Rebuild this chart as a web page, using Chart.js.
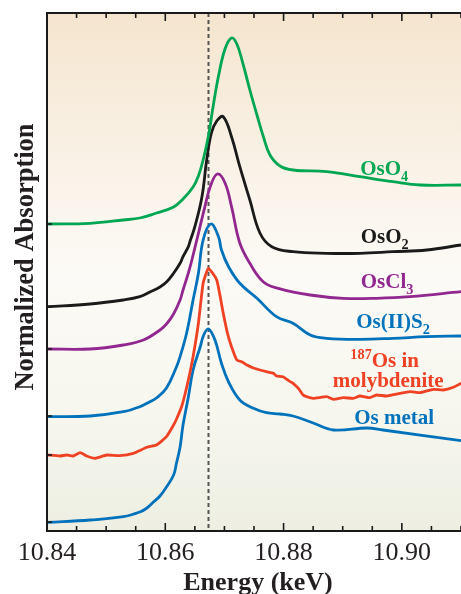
<!DOCTYPE html>
<html><head><meta charset="utf-8">
<script src="https://cdn.jsdelivr.net/npm/chart.js@4/dist/chart.umd.min.js"></script>
<style>html,body{margin:0;padding:0;background:#fff;overflow:hidden}#wrap{width:461px;height:594px}</style>
</head><body><div id="wrap"><canvas id="c" width="461" height="594"></canvas></div>
<script>
// ---- data (energy in keV, stacked normalized absorption) ----
const xTickLabels = ['10.84', '10.86', '10.88', '10.90'];
const edgeEnergy = 10.8673;
const baselineTicks = [3.07, 2.24, 1.82, 1.15, 0.76, 0.09];

const eOsO4 = [10.840,10.8473,10.8529,10.8557,10.8585,10.8614,10.8630,10.8647,10.8656,10.8664,10.8673,10.8681,10.8690,10.8701,10.8712,10.8721,10.8731,10.8743,10.8755,10.8766,10.8777,10.8794,10.8816,10.8873,10.8929,10.8985,10.9031,10.9100];
const aOsO4 = [3.07,3.077,3.11,3.13,3.18,3.24,3.32,3.44,3.55,3.71,3.95,4.25,4.55,4.82,4.93,4.87,4.68,4.41,4.16,3.94,3.76,3.65,3.61,3.593,3.543,3.493,3.46,3.46];

const eOsO2 = [10.840,10.8473,10.8529,10.8557,10.8574,10.8591,10.8602,10.8614,10.8625,10.8630,10.8639,10.8642,10.8650,10.8662,10.8670,10.8678,10.8687,10.8698,10.8712,10.8726,10.8743,10.8760,10.8780,10.8816,10.8873,10.8929,10.8985,10.9042,10.9100];
const aOsO2 = [2.243,2.27,2.31,2.343,2.39,2.44,2.49,2.577,2.677,2.743,2.843,2.90,3.043,3.343,3.71,3.98,4.10,4.143,3.943,3.643,3.31,2.98,2.843,2.793,2.777,2.777,2.793,2.81,2.86];

const eOsCl3 = [10.840,10.8473,10.8529,10.8563,10.8591,10.8602,10.8614,10.8625,10.8630,10.8639,10.8645,10.8656,10.8667,10.8676,10.8688,10.8701,10.8712,10.8726,10.8743,10.8766,10.8791,10.8845,10.8901,10.8957,10.9014,10.9100];
const aOsCl3 = [1.82,1.82,1.86,1.91,2.01,2.07,2.17,2.31,2.41,2.58,2.71,2.977,3.243,3.443,3.57,3.48,3.243,2.88,2.677,2.49,2.427,2.36,2.327,2.327,2.343,2.393];

const eOsS2 = [10.840,10.8473,10.8529,10.8557,10.8574,10.8585,10.8602,10.8619,10.8625,10.8636,10.8647,10.8656,10.8664,10.8677,10.8690,10.8695,10.8707,10.8726,10.8755,10.8788,10.8816,10.8845,10.8873,10.8929,10.8985,10.9042,10.9100];
const aOsS2 = [1.143,1.15,1.193,1.243,1.293,1.33,1.43,1.643,1.743,1.977,2.31,2.577,2.91,3.07,2.943,2.81,2.643,2.477,2.327,2.143,2.077,1.96,1.927,1.917,1.927,1.943,1.95];

const eMoly = [10.840,10.8422,10.8433,10.8444,10.8456,10.8467,10.8481,10.8501,10.8523,10.8546,10.8569,10.8585,10.8602,10.8614,10.8619,10.8628,10.8639,10.8647,10.8656,10.8664,10.8673,10.8687,10.8698,10.8705,10.8712,10.8721,10.8730,10.8738,10.8749,10.8760,10.8771,10.8783,10.8788,10.8799,10.8811,10.8816,10.8825,10.8833,10.8839,10.8850,10.8873,10.8884,10.8901,10.8918,10.8929,10.8946,10.8957,10.8974,10.8997,10.9014,10.9031,10.9053,10.9070,10.9087,10.9100];
const aMoly = [0.76,0.75,0.76,0.75,0.783,0.75,0.727,0.76,0.753,0.777,0.837,0.86,0.943,1.06,1.12,1.25,1.51,1.743,2.077,2.477,2.627,2.51,2.177,1.98,1.843,1.71,1.69,1.66,1.63,1.61,1.593,1.577,1.55,1.543,1.493,1.477,1.427,1.36,1.343,1.327,1.343,1.317,1.333,1.327,1.35,1.333,1.36,1.35,1.377,1.393,1.383,1.417,1.41,1.437,1.477];

const eOsMetal = [10.840,10.8473,10.8529,10.8557,10.8569,10.8580,10.8591,10.8602,10.8614,10.8619,10.8625,10.8630,10.8639,10.8647,10.8659,10.8665,10.8673,10.8684,10.8695,10.8707,10.8726,10.8749,10.8771,10.8794,10.8816,10.8850,10.8884,10.8941,10.8968,10.9100];
const aOsMetal = [0.087,0.11,0.143,0.19,0.23,0.29,0.35,0.44,0.56,0.68,0.84,1.06,1.34,1.61,1.84,1.96,2.02,1.91,1.677,1.49,1.31,1.227,1.183,1.17,1.15,1.08,1.01,1.03,1.01,0.903];

const seriesNames = ['OsO4','OsO2','OsCl3','Os(II)S2','187Os in molybdenite','Os metal'];
const seriesColors = ['#00a651','#1a1a1a','#92278f','#0072bc','#ef4123','#0072bc'];

function pts(e, a) { return e.map((x, i) => ({x: x, y: a[i]})); }

const labelDefs = [
  {segs: [['OsO','n'],['4','sub']], e: 10.8970, v: 3.56, color: seriesColors[0]},
  {segs: [['OsO','n'],['2','sub']], e: 10.8971, v: 2.88, color: seriesColors[1]},
  {segs: [['OsCl','n'],['3','sub']], e: 10.8975, v: 2.43, color: seriesColors[2]},
  {segs: [['Os(II)S','n'],['2','sub']], e: 10.8985, v: 2.03, color: seriesColors[3]},
  {segs: [['187','sup'],['Os in','n']], e: 10.8971, v: 1.64, color: seriesColors[4]},
  {segs: [['molybdenite','n']], e: 10.8977, v: 1.443, color: seriesColors[4]},
  {segs: [['Os metal','n']], e: 10.8987, v: 1.07, color: seriesColors[5]}
];

function drawRich(ctx, segs, cx, base, size, color) {
  const f = s => 'bold ' + s + 'px "Liberation Serif", "Times New Roman", serif';
  let w = 0;
  segs.forEach(s => { const sz = s[1] === 'n' ? size : size * 0.68; ctx.font = f(sz); w += ctx.measureText(s[0]).width; });
  let x = cx - w / 2;
  ctx.fillStyle = color; ctx.textAlign = 'left'; ctx.textBaseline = 'alphabetic';
  segs.forEach(s => {
    const sz = s[1] === 'n' ? size : size * 0.68;
    const dy = s[1] === 'sub' ? size * 0.28 : (s[1] === 'sup' ? -size * 0.36 : 0);
    ctx.font = f(sz);
    ctx.fillText(s[0], x, base + dy);
    x += ctx.measureText(s[0]).width;
  });
}

const decor = {
  id: 'decor',
  beforeDraw(chart) {
    const {ctx, chartArea: ca} = chart;
    ctx.save();
    ctx.fillStyle = '#ffffff';
    ctx.fillRect(0, 0, chart.width, chart.height);
    const g = ctx.createLinearGradient(0, ca.top, 0, ca.bottom);
    g.addColorStop(0, '#f5e5cf');
    g.addColorStop(0.25, '#f9f0e3');
    g.addColorStop(0.5, '#fcfaf6');
    g.addColorStop(0.75, '#f7f7ef');
    g.addColorStop(1, '#eeefe2');
    ctx.fillStyle = g;
    ctx.fillRect(ca.left, ca.top, ca.right - ca.left, ca.bottom - ca.top);
    ctx.restore();
  },
  beforeDatasetsDraw(chart) {
    const {ctx, chartArea: ca, scales: {x}} = chart;
    const px = Math.round(x.getPixelForValue(edgeEnergy)) + 0.5;
    ctx.save();
    ctx.strokeStyle = '#555555';
    ctx.lineWidth = 2;
    ctx.setLineDash([4, 3]);
    ctx.beginPath(); ctx.moveTo(px, ca.top); ctx.lineTo(px, ca.bottom); ctx.stroke();
    ctx.restore();
  },
  afterDraw(chart) {
    const {ctx, chartArea: ca, scales: {x, y}} = chart;
    ctx.save();
    ctx.strokeStyle = '#1a1a1a';
    ctx.lineWidth = 2;
    ctx.beginPath();
    ctx.moveTo(chart.width + 2, ca.top); ctx.lineTo(ca.left, ca.top);
    ctx.lineTo(ca.left, ca.bottom); ctx.lineTo(chart.width + 2, ca.bottom);
    ctx.stroke();
    ctx.lineWidth = 1.6;
    for (let i = 1; i <= 14; i++) {
      const e = 10.84 + i * 0.005;
      const p = x.getPixelForValue(e);
      const major = i % 4 === 0;
      const len = major ? 8 : 5;
      ctx.beginPath();
      ctx.moveTo(p, ca.bottom); ctx.lineTo(p, ca.bottom - len);
      ctx.moveTo(p, ca.top); ctx.lineTo(p, ca.top + len);
      ctx.stroke();
    }
    baselineTicks.forEach(v => {
      const p = y.getPixelForValue(v);
      ctx.beginPath(); ctx.moveTo(ca.left, p); ctx.lineTo(ca.left + 5, p); ctx.stroke();
    });
    ctx.fillStyle = '#231f20';
    ctx.font = '26px "Liberation Serif", "Times New Roman", serif';
    ctx.textAlign = 'center'; ctx.textBaseline = 'alphabetic';
    xTickLabels.forEach(t => {
      ctx.fillText(t, x.getPixelForValue(parseFloat(t)), 560);
    });
    ctx.font = 'bold 26px "Liberation Serif", "Times New Roman", serif';
    ctx.fillText('Energy (keV)', 258, 590);
    ctx.save();
    ctx.translate(33, 257);
    ctx.rotate(-Math.PI / 2);
    ctx.font = 'bold 26.5px "Liberation Serif", "Times New Roman", serif';
    ctx.fillText('Normalized Absorption', 0, 0);
    ctx.restore();
    labelDefs.forEach(l => {
      drawRich(ctx, l.segs, x.getPixelForValue(l.e), y.getPixelForValue(l.v), 21, l.color);
    });
    ctx.restore();
  }
};

const series = [
  [eOsO4, aOsO4], [eOsO2, aOsO2], [eOsCl3, aOsCl3], [eOsS2, aOsS2], [eMoly, aMoly], [eOsMetal, aOsMetal]
];

new Chart(document.getElementById('c'), {
  type: 'scatter',
  data: {
    datasets: series.map((s, i) => ({
      label: seriesNames[i],
      data: pts(s[0], s[1]),
      showLine: true,
      borderColor: seriesColors[i],
      borderWidth: 2.8,
      borderJoinStyle: 'round',
      pointRadius: 0,
      fill: false,
      tension: i === 4 ? 0.15 : 0.4
    }))
  },
  options: {
    responsive: false,
    animation: false,
    devicePixelRatio: 1,
    layout: {padding: {left: 47, top: 13, right: 0, bottom: 63}},
    plugins: {legend: {display: false}, tooltip: {enabled: false}},
    scales: {
      x: {type: 'linear', min: 10.84, max: 10.91, display: false},
      y: {type: 'linear', min: 0, max: 5.18, display: false}
    }
  },
  plugins: [decor]
});
</script>
</body></html>
